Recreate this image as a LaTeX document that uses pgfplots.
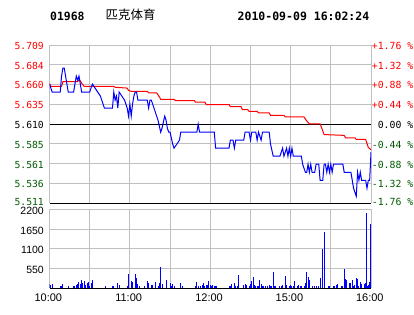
\documentclass[border=0pt]{standalone}
\usepackage{fontspec}
\setmainfont{Liberation Sans}
\newfontfamily\monof{DejaVu Sans Mono}
\newfontfamily\cjk{Noto Sans CJK SC}
\usepackage{pgfplots}
\pgfplotsset{compat=1.18}
\definecolor{dkgreen}{RGB}{0,90,0}
\definecolor{gridgray}{RGB}{192,192,192}
\definecolor{pblue}{RGB}{0,0,255}
\definecolor{pred}{RGB}{255,0,0}
\begin{document}
\begin{tikzpicture}
\path[use as bounding box] (0,0) rectangle (414pt,314pt);
\node[anchor=base west, inner sep=0pt, font=\monof\bfseries\fontsize{11.4}{12}\selectfont] at (50pt,293.4pt) {01968};
\node[anchor=base west, inner sep=0pt, font=\cjk\fontsize{12.5}{13}\selectfont] at (105.5pt,294pt) {匹克体育};
\node[anchor=base west, inner sep=0pt, font=\monof\bfseries\fontsize{11.5}{12}\selectfont] at (237.5pt,293.4pt) {2010-09-09 16:02:24};

% ---------- price panel ----------
\begin{axis}[
  at={(49.5pt,110.7pt)}, anchor=south west, scale only axis,
  width=321.5pt, height=158.3pt,
  xmin=0, xmax=240, ymin=5.511264, ymax=5.708736,
  axis line style={draw=none}, major tick length=0pt,
  xtick={0,30,...,240}, xticklabels={,,,,,,,,},
  ytick={5.535948,5.560632,5.585316,5.634684,5.659368,5.684052,5.708736},
  yticklabels={\textcolor{dkgreen}{5.536},\textcolor{dkgreen}{5.561},\textcolor{dkgreen}{5.585},
    \textcolor{pred}{5.635},\textcolor{pred}{5.660},\textcolor{pred}{5.684},\textcolor{pred}{\raisebox{-1pt}{5.709}}},
  extra y ticks={5.511264,5.61},
  extra y tick labels={\textcolor{dkgreen}{\raisebox{4.5pt}{5.511}},5.610},
  extra y tick style={major grid style={black,line width=1pt}},
  grid=major, major grid style={gridgray,line width=1pt},
  yticklabel style={font=\monof\fontsize{9.7}{11}\selectfont, inner sep=0pt, xshift=-5.5pt, yshift=-0.8pt},
]
\addplot[pred, line width=1pt, no markers] coordinates {
(0,5.661) (1,5.657) (9,5.657) (10,5.663) (21,5.663) (22,5.665) (23,5.664) (24,5.661)
(25,5.659) (26,5.657) (48,5.657) (49,5.656) (58,5.655) (59,5.652) (61,5.651) (73,5.651)
(74,5.649) (80,5.649) (82,5.644) (83,5.641) (93,5.641) (94,5.6395) (108,5.6395) (109,5.6375)
(116,5.6375) (117,5.6345) (134,5.6345) (135,5.632) (143,5.632) (144,5.628) (148,5.628)
(149,5.626) (155,5.626) (156,5.624) (164,5.624) (165,5.621) (175,5.621) (176,5.619)
(190,5.619) (192,5.614) (194,5.6105) (202,5.6105) (205,5.597) (220,5.596) (221,5.593)
(228,5.593) (229,5.591) (236,5.591) (237,5.586) (238,5.581) (240,5.578)
};
\addplot[pblue, line width=1pt, no markers] coordinates {
(0,5.66) (2,5.65) (8,5.65) (9,5.67) (10,5.68) (11,5.68) (12,5.67) (13,5.66) (14,5.65)
(18,5.65) (19,5.66) (20,5.67) (21,5.665) (22,5.67) (23,5.66) (24,5.65) (30,5.65) (32,5.66)
(34,5.655) (36,5.65) (38,5.645) (40,5.635) (41,5.63) (47,5.63) (48,5.65) (49,5.64) (50,5.645)
(51,5.63) (52,5.65) (54,5.645) (56,5.64) (58,5.63) (59,5.62) (60,5.635) (61,5.62) (62,5.635)
(63,5.645) (64,5.65) (65,5.65) (66,5.64) (73,5.64) (74,5.63) (75,5.64) (76,5.64) (78,5.63)
(80,5.62) (81,5.615) (83,5.60) (84,5.605) (86,5.62) (87,5.615) (88,5.605) (89,5.60) (90,5.60)
(92,5.585) (93,5.58) (95,5.585) (97,5.59) (98,5.60) (110,5.60) (111,5.61) (112,5.60) (123,5.60)
(124,5.58) (134,5.58) (135,5.59) (137,5.59) (138,5.58) (139,5.59) (145,5.59) (146,5.60)
(149,5.60) (150,5.59) (151,5.60) (154,5.60) (155,5.59) (156,5.60) (158,5.59) (159,5.60)
(164,5.60) (165,5.585) (167,5.57) (172,5.57) (174,5.58) (175,5.57) (177,5.58) (178,5.57)
(179,5.58) (180,5.57) (181,5.58) (182,5.57) (188,5.57) (189,5.56) (191,5.55) (192,5.55)
(193,5.56) (194,5.55) (195,5.56) (196,5.55) (198,5.55) (199,5.56) (201,5.56) (202,5.54)
(204,5.54) (205,5.56) (206,5.56) (207,5.55) (208,5.56) (209,5.55) (210,5.56) (211,5.55)
(212,5.56) (219,5.56) (220,5.55) (225,5.55) (227,5.53) (229,5.52) (230,5.55) (231,5.54)
(232,5.55) (233,5.54) (236,5.54) (237,5.53) (238,5.54) (239,5.54) (240,5.575)
};
\end{axis}

% ---------- right percentage labels ----------
\begin{axis}[
  at={(49.5pt,110.7pt)}, anchor=south west, scale only axis,
  width=321.5pt, height=158.3pt,
  xmin=0, xmax=240, ymin=5.511264, ymax=5.708736,
  axis y line*=right, axis x line=none,
  axis line style={draw=none}, major tick length=0pt,
  ytick={5.511264,5.535948,5.560632,5.585316,5.61,5.634684,5.659368,5.684052,5.708736},
  yticklabels={\textcolor{dkgreen}{\raisebox{4pt}{-1.76 \%}},\textcolor{dkgreen}{-1.32 \%},
    \textcolor{dkgreen}{-0.88 \%},\textcolor{dkgreen}{-0.44 \%},\phantom{+}0.00 \%,
    \textcolor{pred}{+0.44 \%},\textcolor{pred}{+0.88 \%},\textcolor{pred}{+1.32 \%},
    \textcolor{pred}{\raisebox{-1pt}{+1.76 \%}}},
  yticklabel style={font=\monof\fontsize{9.8}{11}\selectfont, inner sep=0pt, anchor=west, xshift=0.7pt, yshift=-0.8pt},
]
\end{axis}

% ---------- volume panel ----------
\begin{axis}[
  at={(49.5pt,25.7pt)}, anchor=south west, scale only axis,
  width=321.5pt, height=79pt,
  xmin=0, xmax=240, ymin=0, ymax=2200,
  axis line style={draw=none}, major tick length=0pt,
  xtick={0,30,...,240}, xticklabels={10:00,,11:00,,12:00,,15:00,,16:00},
  ytick={550,1100,1650,2200}, yticklabels={550,1100,1650,\raisebox{-2pt}{2200}},
  extra y ticks={0}, extra y tick labels={},
  extra y tick style={major grid style={black,line width=1pt}},
  grid=major, major grid style={gridgray,line width=1pt},
  yticklabel style={font=\fontsize{10.5}{12}\selectfont, inner sep=0pt, xshift=-5.5pt, yshift=-1.5pt},
  xticklabel style={font=\fontsize{11}{12}\selectfont, inner sep=0pt, yshift=-5.4pt, xshift=-1.2pt},
]
\addplot[ycomb, pblue, line width=1pt, no markers] coordinates {
(0,111) (1,84) (2,111) (8,56) (9,56) (10,111) (14,56) (18,56) (19,56) (20,84) (21,111)
(22,167) (23,111) (24,223) (25,139) (26,195) (27,84) (28,139) (29,167) (30,56) (31,139)
(32,223) (42,56) (47,56) (48,56) (51,139) (52,84) (58,56) (59,390) (61,195) (62,167)
(64,390) (65,278) (66,111) (67,56) (71,56) (73,195) (74,139) (76,84) (77,84) (79,167)
(81,56) (82,139) (83,585) (84,111) (87,223) (90,139) (91,56) (92,111) (93,56) (98,139)
(99,56) (109,56) (110,167) (111,56) (113,56) (114,84) (115,139) (116,56) (117,84) (118,84)
(119,195) (120,84) (121,56) (122,84) (123,56) (124,56) (125,56) (134,56) (135,56) (136,111)
(138,139) (139,56) (140,56) (141,362) (145,84) (146,111) (147,84) (149,56) (150,111)
(151,195) (152,306) (153,84) (154,56) (155,56) (156,56) (157,223) (158,111) (159,56)
(160,56) (161,56) (163,56) (164,84) (165,56) (166,56) (167,445) (168,56) (169,56) (172,56)
(173,56) (174,84) (176,334) (177,84) (179,56) (180,84) (181,56) (182,56) (183,195) (185,56)
(186,84) (187,56) (188,56) (190,56) (191,139) (192,445) (193,306) (194,223) (196,56)
(198,56) (199,56) (201,56) (202,278) (204,1086) (205,1559) (208,56) (209,56) (212,56)
(213,56) (214,84) (215,111) (218,56) (219,56) (220,529) (221,250) (222,223) (224,139)
(225,139) (226,223) (227,56) (228,84) (229,278) (230,250) (231,56) (232,167) (233,111)
(235,111) (236,139) (237,2088) (237.7,56) (238.4,84) (239,167) (239.6,1782)
};
\end{axis}
\end{tikzpicture}
\end{document}
